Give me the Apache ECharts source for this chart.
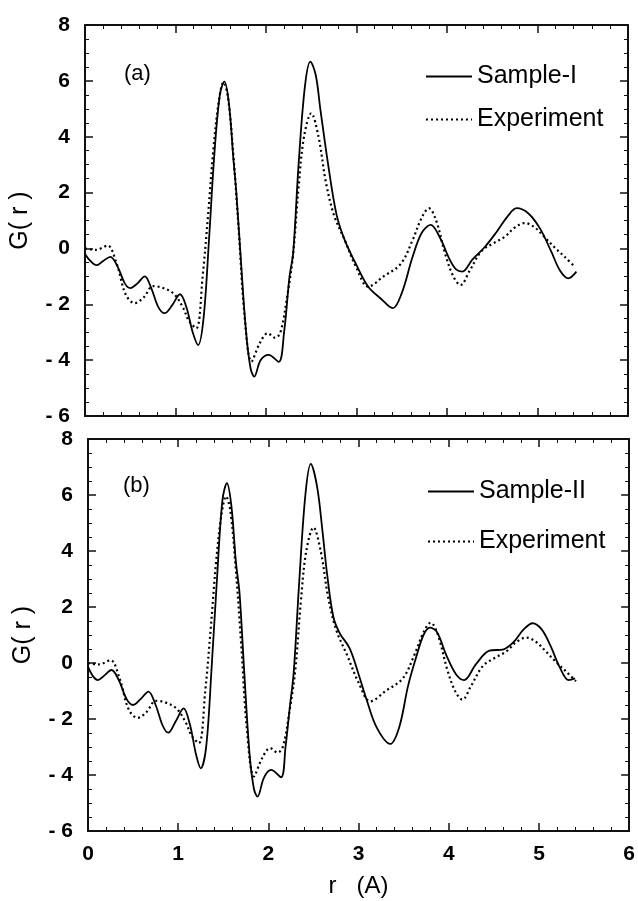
<!DOCTYPE html>
<html>
<head>
<meta charset="utf-8">
<script src="https://cdn.jsdelivr.net/npm/echarts@6/dist/echarts.min.js"></script>
<style>
  html, body { margin: 0; padding: 0; background: #fff; }
  #chart { width: 638px; height: 901px; }
</style>
</head>
<body>
<div id="chart"></div>
<script>
// experiment G(r), same curve in both panels
const rExp = [0.00, 0.12, 0.25, 0.35, 0.45, 0.55, 0.65, 0.75, 0.85, 0.98, 1.08, 1.15, 1.23, 1.30, 1.36, 1.42, 1.48, 1.53, 1.58, 1.64, 1.70, 1.76, 1.84, 1.93, 2.02, 2.10, 2.16, 2.24, 2.30, 2.36, 2.42, 2.50, 2.58, 2.66, 2.75, 2.87, 3.00, 3.13, 3.30, 3.49, 3.62, 3.72, 3.80, 3.88, 3.98, 4.07, 4.15, 4.25, 4.38, 4.52, 4.64, 4.75, 4.86, 4.97, 5.08, 5.20, 5.30, 5.41];
const gExp = [0.00, -0.05, 0.10, -0.55, -1.65, -1.96, -1.75, -1.35, -1.40, -1.62, -2.10, -2.60, -2.86, -1.00, 1.20, 3.60, 5.30, 5.95, 5.40, 3.30, 0.60, -2.30, -4.05, -3.40, -3.04, -3.20, -3.00, -1.60, -0.20, 2.20, 4.00, 4.84, 4.00, 2.40, 1.20, 0.30, -0.70, -1.37, -1.00, -0.55, 0.30, 1.10, 1.44, 1.00, -0.20, -1.00, -1.31, -0.80, -0.10, 0.20, 0.42, 0.75, 0.91, 0.75, 0.40, 0.00, -0.30, -0.65];

// sample-I
const rS1 = [0.00, 0.06, 0.13, 0.20, 0.28, 0.36, 0.44, 0.50, 0.58, 0.66, 0.73, 0.81, 0.88, 0.96, 1.05, 1.12, 1.19, 1.25, 1.31, 1.37, 1.43, 1.49, 1.54, 1.59, 1.64, 1.67, 1.72, 1.78, 1.83, 1.87, 1.94, 2.03, 2.14, 2.20, 2.26, 2.30, 2.36, 2.43, 2.49, 2.55, 2.60, 2.69, 2.78, 2.87, 3.00, 3.13, 3.27, 3.40, 3.50, 3.62, 3.72, 3.82, 3.92, 4.03, 4.10, 4.17, 4.28, 4.42, 4.55, 4.67, 4.77, 4.90, 5.03, 5.15, 5.25, 5.34, 5.43];
const gS1 = [-0.20, -0.45, -0.60, -0.45, -0.30, -0.65, -1.25, -1.42, -1.25, -1.00, -1.40, -2.10, -2.32, -2.05, -1.64, -2.10, -3.00, -3.46, -2.50, 0.30, 3.40, 5.50, 5.97, 5.20, 3.20, 2.09, -0.30, -3.00, -4.30, -4.59, -4.00, -3.81, -4.06, -3.00, -1.00, -0.17, 3.00, 5.80, 6.69, 6.20, 5.00, 2.93, 1.20, 0.30, -0.60, -1.37, -1.80, -2.14, -1.60, -0.30, 0.55, 0.84, 0.40, -0.40, -0.75, -0.83, -0.40, 0.06, 0.60, 1.15, 1.44, 1.25, 0.70, -0.10, -0.80, -1.07, -0.83];

// sample-II
const rS2 = [0.00, 0.05, 0.11, 0.18, 0.26, 0.34, 0.43, 0.50, 0.58, 0.67, 0.75, 0.83, 0.89, 0.97, 1.06, 1.13, 1.20, 1.25, 1.31, 1.37, 1.43, 1.49, 1.54, 1.59, 1.64, 1.68, 1.73, 1.79, 1.84, 1.88, 1.95, 2.03, 2.14, 2.19, 2.24, 2.28, 2.34, 2.41, 2.47, 2.54, 2.60, 2.65, 2.72, 2.79, 2.90, 3.00, 3.09, 3.20, 3.35, 3.45, 3.55, 3.64, 3.72, 3.79, 3.87, 3.97, 4.08, 4.17, 4.30, 4.45, 4.61, 4.72, 4.83, 4.93, 5.03, 5.13, 5.23, 5.33, 5.40];
const gS2 = [-0.13, -0.45, -0.61, -0.45, -0.25, -0.60, -1.30, -1.50, -1.30, -1.02, -1.50, -2.25, -2.49, -2.10, -1.62, -2.20, -3.30, -3.76, -3.00, -0.20, 3.00, 5.80, 6.42, 5.60, 3.60, 2.50, -0.20, -3.20, -4.50, -4.77, -4.10, -3.82, -4.08, -3.00, -1.50, -0.37, 2.80, 6.00, 7.11, 6.30, 4.70, 3.20, 1.65, 1.07, 0.53, -0.40, -1.32, -2.30, -2.89, -2.30, -0.80, 0.22, 1.00, 1.26, 1.10, 0.30, -0.40, -0.61, -0.05, 0.44, 0.49, 0.75, 1.20, 1.42, 1.20, 0.60, -0.15, -0.61, -0.55];

const zip = (xs, ys) => xs.map((x, i) => [x, ys[i]]);

const FONT = "Liberation Sans";
const lineColor = "#111";

function xAxisFor(gridIndex, position, showLabels) {
  return {
    type: "value",
    gridIndex: gridIndex,
    position: position,
    min: 0,
    max: 6,
    interval: 1,
    axisLine: { show: true, onZero: false, lineStyle: { color: lineColor, width: 2 } },
    axisTick: { show: true, inside: true, length: 8, lineStyle: { color: lineColor, width: 1.5 } },
    minorTick: { show: true, splitNumber: 5, length: 4, lineStyle: { color: lineColor, width: 1 } },
    splitLine: { show: false },
    axisLabel: {
      show: showLabels,
      margin: 13,
      color: "#000",
      fontFamily: FONT,
      fontWeight: "bold",
      fontSize: 21,
    },
    name: showLabels ? "r   (A)" : "",
    nameLocation: "middle",
    nameGap: 43,
    nameTextStyle: { color: "#000", fontFamily: FONT, fontSize: 24 },
  };
}

function yAxisFor(gridIndex, position, showLabels) {
  return {
    type: "value",
    gridIndex: gridIndex,
    position: position,
    min: -6,
    max: 8,
    interval: 2,
    axisLine: { show: true, onZero: false, lineStyle: { color: lineColor, width: 2 } },
    axisTick: { show: true, inside: true, length: 8, lineStyle: { color: lineColor, width: 1.5 } },
    minorTick: { show: true, splitNumber: 4, length: 4, lineStyle: { color: lineColor, width: 1 } },
    splitLine: { show: false },
    axisLabel: {
      show: showLabels,
      margin: 15,
      color: "#000",
      fontFamily: FONT,
      fontWeight: "bold",
      fontSize: 21,
      formatter: (v) => (v < 0 ? "- " + Math.abs(v) : String(v)),
    },
    name: showLabels ? "G( r )" : "",
    nameLocation: "middle",
    nameGap: 52,
    nameTextStyle: { color: "#000", fontFamily: FONT, fontSize: 25 },
  };
}

function curve(name, data, xi, yi, dotted) {
  return {
    name: name,
    type: "line",
    xAxisIndex: xi,
    yAxisIndex: yi,
    data: data,
    smooth: 0.35,
    symbol: "none",
    silent: true,
    lineStyle: { color: "#000", width: dotted ? 2.2 : 1.8, type: dotted ? [2, 3] : "solid" },
    itemStyle: { color: "#000" },
    z: dotted ? 2 : 3,
  };
}

const legendText = { color: "#000", fontFamily: FONT, fontSize: 25 };

let myChart = echarts.init(document.getElementById("chart"));
let option = {
  backgroundColor: "#fff",
  animation: false,
  title: [
    { text: "(a)", left: 119, top: 58, textStyle: { color: "#000", fontFamily: FONT, fontSize: 22, fontWeight: "normal" } },
    { text: "(b)", left: 118, top: 470, textStyle: { color: "#000", fontFamily: FONT, fontSize: 22, fontWeight: "normal" } },
  ],
  legend: [
    {
      data: ["Sample-I", "Experiment"],
      orient: "vertical",
      left: 420,
      top: 59,
      itemWidth: 46,
      itemHeight: 14,
      itemGap: 18,
      itemStyle: { opacity: 0 },
      textStyle: legendText,
      selectedMode: false,
    },
    {
      data: ["Sample-II", "Experiment "],
      orient: "vertical",
      left: 422,
      top: 474,
      itemWidth: 46,
      itemHeight: 14,
      itemGap: 25,
      itemStyle: { opacity: 0 },
      textStyle: legendText,
      selectedMode: false,
    },
  ],
  grid: [
    { left: 85, top: 25, width: 543, height: 391 },
    { left: 88, top: 439, width: 544, height: 392 },
  ],
  xAxis: [
    xAxisFor(0, "bottom", false),
    xAxisFor(0, "top", false),
    xAxisFor(1, "bottom", true),
    xAxisFor(1, "top", false),
  ],
  yAxis: [
    yAxisFor(0, "left", true),
    yAxisFor(0, "right", false),
    yAxisFor(1, "left", true),
    yAxisFor(1, "right", false),
  ],
  series: [
    curve("Experiment", zip(rExp, gExp), 0, 0, true),
    curve("Sample-I", zip(rS1, gS1), 0, 0, false),
    curve("Experiment ", zip(rExp, gExp), 2, 2, true),
    curve("Sample-II", zip(rS2, gS2), 2, 2, false),
  ],
};
myChart.setOption(option);
</script>
</body>
</html>
